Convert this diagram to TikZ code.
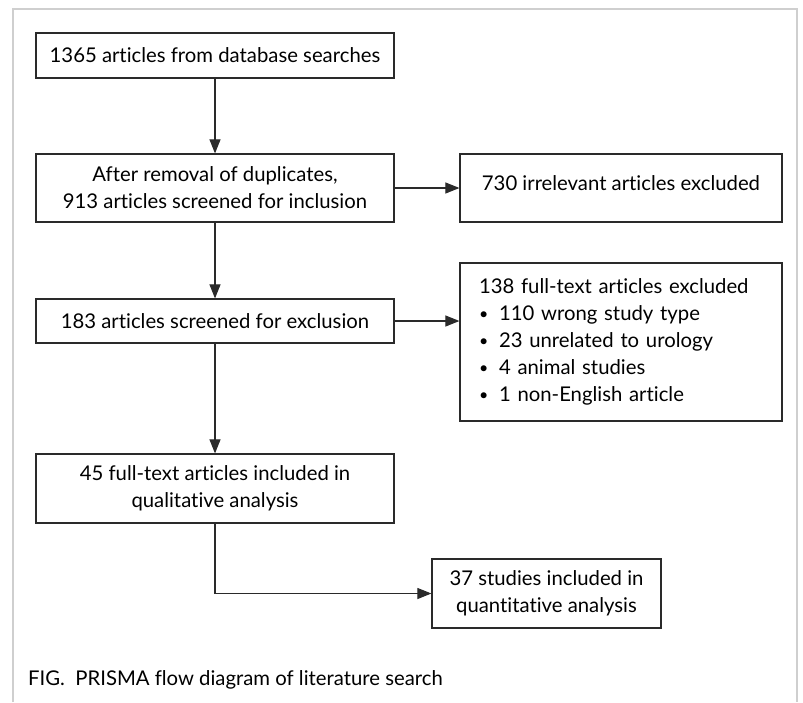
\documentclass[tikz,border=0pt]{standalone}
\usepackage{fontspec}
\setmainfont{Lato}[Ligatures={NoCommon}]
\usetikzlibrary{arrows.meta}
\definecolor{framegray}{HTML}{CFCFCF}
\definecolor{boxline}{HTML}{2A2A2A}
\newcommand{\bul}{\makebox[20pt][l]{\raisebox{1pt}{\fontsize{16}{16}\selectfont\textbullet}}}
\begin{document}
\begin{tikzpicture}[x=1pt,y=-1pt,
  box/.style={draw=boxline, line width=1.2pt, inner sep=0pt, align=center,
    font=\fontsize{20.3}{27}\selectfont, text=black},
  flow/.style={draw=boxline, line width=1.1pt, -{Triangle[length=14pt,width=11pt]}}]
\useasboundingbox (0,0) rectangle (803,702);
% outer frame
\draw[framegray, line width=1.5pt] (13,702) -- (13,9) -- (797,9) -- (797,702);
% boxes
\node[box, minimum width=358pt, minimum height=45pt] (b1) at (215,55.5)
  {1365 articles from database searches};
\node[box, minimum width=358pt, minimum height=68pt] (b2) at (215,188)
  {After removal of duplicates,\\913 articles screened for inclusion};
\node[box, minimum width=322pt, minimum height=68pt] (b730) at (621,188)
  {\raisebox{0pt}[\height][\dimexpr\depth+10pt\relax]{730 irrelevant articles excluded}};
\node[box, minimum width=358pt, minimum height=44pt] (b3) at (215,321)
  {183 articles screened for exclusion};
\node[box, minimum width=322pt, minimum height=158pt, align=left,
  text width=284pt, inner xsep=19pt] (b138) at (621,342)
  {138 full-text articles excluded\\
   \bul 110 wrong study type\\
   \bul 23 unrelated to urology\\
   \bul 4 animal studies\\
   \bul 1 non-English article};
\node[box, minimum width=358pt, minimum height=69pt] (b4) at (215,488.5)
  {45 full-text articles included in\\qualitative analysis};
\node[box, minimum width=229pt, minimum height=69pt] (b5) at (546.5,593.5)
  {37 studies included in\\quantitative analysis};
% caption
\node[anchor=base west, inner sep=0pt, font=\fontsize{20.3}{27}\selectfont] (cap) at (28,685)
  {FIG.\ \ PRISMA flow diagram of literature search};
% connectors
\draw[flow] (b1) -- (b2);
\draw[flow] (b2) -- (b730);
\draw[flow] (b2) -- (b3);
\draw[flow] (b3.east) -- (b3.east -| b138.west);
\draw[flow] (b3) -- (b4);
\draw[flow] (b4.south) |- (b5.west);
\end{tikzpicture}
\end{document}
